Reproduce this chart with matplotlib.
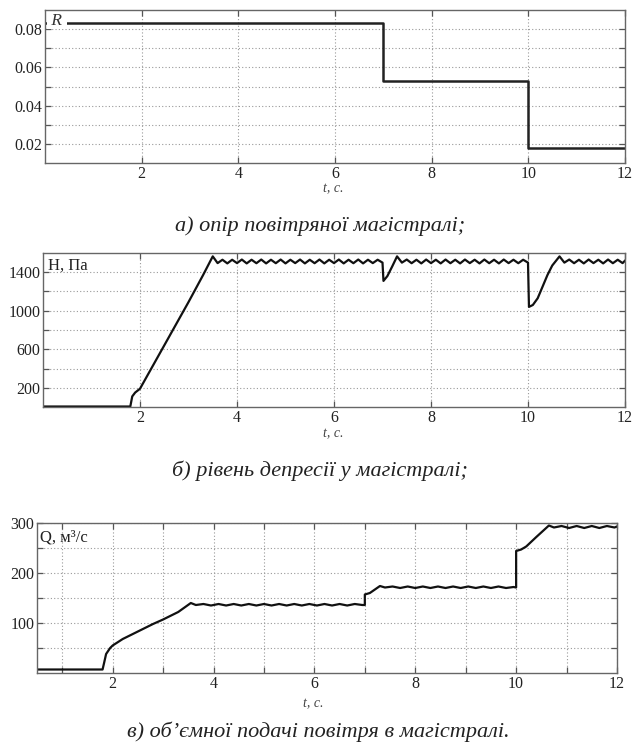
import matplotlib.pyplot as plt
from matplotlib.ticker import FixedLocator, NullFormatter

plt.rcParams['font.family'] = ['Liberation Serif', 'DejaVu Serif']

# R - resistance of air main
r_t = [0.0, 7.0, 7.0, 10.0, 10.0, 12.0]
r_val = [0.083, 0.083, 0.053, 0.053, 0.018, 0.018]

# H - depression level, Pa
h_t = [0.0, 1.8, 1.84, 1.9, 2.0, 2.5, 3.0, 3.3, 3.5,
       3.6, 3.7, 3.8, 3.9, 4.0, 4.1, 4.2, 4.3, 4.4, 4.5, 4.6, 4.7, 4.8, 4.9,
       5.0, 5.1, 5.2, 5.3, 5.4, 5.5, 5.6, 5.7, 5.8, 5.9, 6.0, 6.1, 6.2, 6.3,
       6.4, 6.5, 6.6, 6.7, 6.8, 6.9, 7.0,
       7.02, 7.1, 7.2, 7.3,
       7.4, 7.5, 7.6, 7.7, 7.8, 7.9, 8.0, 8.1, 8.2, 8.3, 8.4, 8.5, 8.6, 8.7,
       8.8, 8.9, 9.0, 9.1, 9.2, 9.3, 9.4, 9.5, 9.6, 9.7, 9.8, 9.9, 10.0,
       10.02, 10.1, 10.2, 10.3, 10.4, 10.5, 10.65,
       10.75, 10.85, 10.95, 11.05, 11.15, 11.25, 11.35, 11.45, 11.55, 11.65,
       11.75, 11.85, 11.95, 12.0]
h_val = [5, 5, 110, 150, 190, 640, 1090, 1370, 1565,
         1495, 1530, 1492, 1530, 1495, 1532, 1492, 1530, 1494, 1532, 1492, 1530, 1494, 1532,
         1492, 1530, 1495, 1532, 1492, 1530, 1494, 1532, 1492, 1530, 1495, 1532, 1492, 1530,
         1494, 1532, 1492, 1530, 1495, 1530, 1500,
         1310, 1360, 1460, 1565,
         1500, 1532, 1494, 1530, 1492, 1532, 1495, 1530, 1492, 1532, 1494, 1530, 1492, 1532,
         1495, 1530, 1492, 1532, 1494, 1530, 1492, 1532, 1495, 1530, 1494, 1530, 1500,
         1040, 1060, 1130, 1250, 1370, 1470, 1565,
         1500, 1532, 1494, 1530, 1492, 1532, 1495, 1530, 1492, 1532,
         1494, 1530, 1495, 1520]

# Q - volumetric air supply, m3/s
q_t = [0.0, 1.8, 1.83, 1.87, 1.95, 2.0, 2.2, 2.5, 2.8, 3.0, 3.3, 3.55,
       3.65, 3.8, 3.95, 4.1, 4.25, 4.4, 4.55, 4.7, 4.85, 5.0, 5.15, 5.3,
       5.45, 5.6, 5.75, 5.9, 6.05, 6.2, 6.35, 6.5, 6.65, 6.8, 6.95, 7.0,
       7.0, 7.1, 7.3,
       7.4, 7.55, 7.7, 7.85, 8.0, 8.15, 8.3, 8.45, 8.6, 8.75, 8.9, 9.05,
       9.2, 9.35, 9.5, 9.65, 9.8, 9.95, 10.0,
       10.0, 10.1, 10.2, 10.4, 10.65,
       10.75, 10.9, 11.05, 11.2, 11.35, 11.5, 11.65, 11.8, 11.95, 12.0]
q_val = [7, 7, 20, 38, 50, 55, 68, 83, 98, 107, 122, 140,
         136, 138, 135, 138, 135, 138, 135, 138, 135, 138, 135, 138,
         135, 138, 135, 138, 135, 138, 135, 138, 135, 138, 136, 136,
         157, 160, 174,
         171, 173, 170, 173, 170, 173, 170, 173, 170, 173, 170, 173,
         170, 173, 170, 173, 170, 172, 171,
         244, 247, 253, 272, 295,
         291, 294, 290, 294, 290, 294, 290, 294, 291, 293]

W, H = 635, 749
fig = plt.figure(figsize=(W / 100, H / 100), dpi=100)


def box(left, right, top, bottom):
    return [left / W, 1 - bottom / H, (right - left) / W, (bottom - top) / H]


def style(ax):
    for s in ax.spines.values():
        s.set_color('#666666')
        s.set_linewidth(1.0)
    ax.tick_params(which='both', direction='in', top=True, right=True,
                   length=4, width=0.9, color='#555555', labelsize=11.5,
                   labelcolor='#222222', pad=2)
    ax.grid(True, which='both', linestyle=(0, (1, 2)), color='#999999', linewidth=0.8)


ax1 = fig.add_axes(box(45, 625, 10, 163))
ax1.plot(r_t, r_val, color='#222222', lw=1.8)
ax1.set_xlim(0, 12)
ax1.set_ylim(0.01, 0.09)
ax1.xaxis.set_major_locator(FixedLocator([2, 4, 6, 8, 10, 12]))
ax1.yaxis.set_major_locator(FixedLocator([0.02, 0.04, 0.06, 0.08]))
ax1.yaxis.set_minor_locator(FixedLocator([0.03, 0.05, 0.07]))
ax1.yaxis.set_minor_formatter(NullFormatter())
ax1.set_yticklabels(['0.02', '0.04', '0.06', '0.08'])
style(ax1)
ax1.text(0.05, 0.0845, ' R ', fontsize=12.5, style='italic', color='#333333',
         va='center', ha='left', zorder=5,
         bbox=dict(facecolor='white', edgecolor='none', pad=0.5))

ax2 = fig.add_axes(box(43, 625, 253, 407))
ax2.plot(h_t, h_val, color='#111111', lw=1.6)
ax2.set_xlim(0, 12)
ax2.set_ylim(0, 1600)
ax2.xaxis.set_major_locator(FixedLocator([2, 4, 6, 8, 10, 12]))
ax2.yaxis.set_major_locator(FixedLocator([200, 600, 1000, 1400]))
ax2.yaxis.set_minor_locator(FixedLocator([400, 800, 1200]))
ax2.yaxis.set_minor_formatter(NullFormatter())
style(ax2)
ax2.text(0.1, 1470, 'H, Па', fontsize=12, color='#222222', va='center', ha='left')

ax3 = fig.add_axes(box(37, 617, 523, 673))
ax3.plot(q_t, q_val, color='#111111', lw=1.6)
ax3.set_xlim(0.5, 12)
ax3.set_ylim(0, 300)
ax3.xaxis.set_major_locator(FixedLocator([2, 4, 6, 8, 10, 12]))
ax3.xaxis.set_minor_locator(FixedLocator([1, 3, 5, 7, 9, 11]))
ax3.xaxis.set_minor_formatter(NullFormatter())
ax3.yaxis.set_major_locator(FixedLocator([100, 200, 300]))
ax3.yaxis.set_minor_locator(FixedLocator([50, 150, 250]))
ax3.yaxis.set_minor_formatter(NullFormatter())
style(ax3)
ax3.text(0.56, 270, 'Q, м³/с', fontsize=12, color='#222222', va='center', ha='left')

# axis names and captions
fig.text(333 / W, 1 - 189 / H, 't, c.', fontsize=10, style='italic', color='#444444',
         ha='center', va='center')
fig.text(333 / W, 1 - 434 / H, 't, c.', fontsize=10, style='italic', color='#444444',
         ha='center', va='center')
fig.text(313 / W, 1 - 704 / H, 't, c.', fontsize=10, style='italic', color='#444444',
         ha='center', va='center')

fig.text(320 / W, 1 - 226 / H, 'а) опір повітряної магістралі;', fontsize=16,
         style='italic', color='#222222', ha='center', va='center')
fig.text(320 / W, 1 - 471 / H, 'б) рівень депресії у магістралі;', fontsize=16,
         style='italic', color='#222222', ha='center', va='center')
fig.text(318 / W, 1 - 732 / H, 'в) об’ємної подачі повітря в магістралі.', fontsize=16,
         style='italic', color='#222222', ha='center', va='center')

fig.savefig('out.png', dpi=100, facecolor='white')
